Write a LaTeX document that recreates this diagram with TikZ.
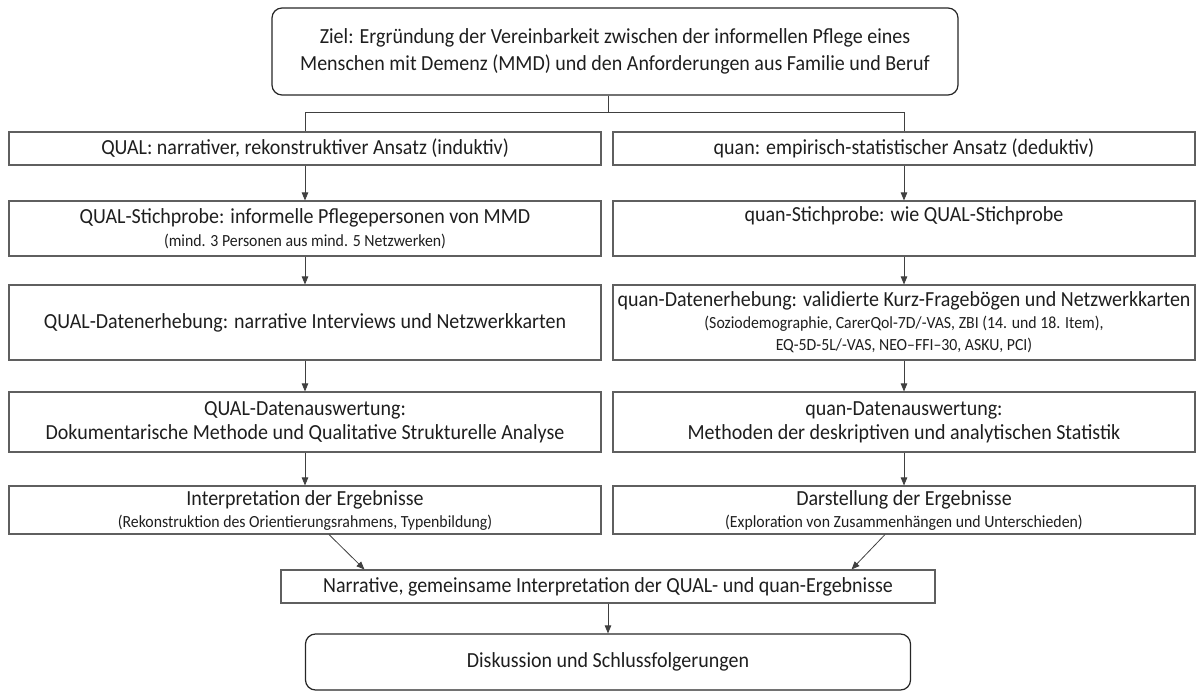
\documentclass[tikz,border=0pt]{standalone}
\usepackage{fontspec}
\setmainfont{Carlito}[FakeStretch=0.93]
\usetikzlibrary{arrows.meta,calc}
\definecolor{linec}{HTML}{5F5F5F}
\definecolor{txt}{HTML}{1E1E1E}
\newcommand{\mtxt}{\fontsize{21.5}{24}\selectfont}
\newcommand{\stxt}{\fontsize{17}{20}\selectfont}
\begin{document}
\begin{tikzpicture}[x=1pt,y=-1pt,
 box/.style={draw=linec, line width=1.1pt, inner sep=0pt, align=center, text=txt, font=\mtxt},
 lbox/.style={box, minimum width=592pt},
 rboxc/.style={box, minimum width=582pt},
 rbox/.style={box, draw=black!85, line width=1.2pt, rounded corners=10pt},
 conn/.style={draw=black!75, line width=0.8pt, -{Triangle[length=8pt,width=6.5pt]}},
 plain/.style={draw=black!75, line width=0.8pt}]
\useasboundingbox (0,0) rectangle (1200,692);

\node[rbox, minimum width=686pt, minimum height=87pt] (top) at (615,51.5)
 {Ziel: Ergründung der Vereinbarkeit zwischen der informellen Pflege eines\\[3pt]Menschen mit Demenz (MMD) und den Anforderungen aus Familie und Beruf};

\node[lbox, minimum height=33pt] (l1) at (305,148.5) {QUAL: narrativer, rekonstruktiver Ansatz (induktiv)};
\node[rboxc, minimum height=33pt] (r1) at (904,148.5) {quan: empirisch-statistischer Ansatz (deduktiv)};

\node[lbox, minimum height=55pt] (l2) at (305,228.5) {QUAL-Stichprobe: informelle Pflegepersonen von MMD\\[-1pt]{\stxt (mind. 3 Personen aus mind. 5 Netzwerken)}};
\node[rboxc, minimum height=55pt] (r2) at (904,228.5) {quan-Stichprobe: wie QUAL-Stichprobe\\[-1pt]{\stxt\strut}};

\node[lbox, minimum height=75pt] (l3) at (305,322.5) {QUAL-Datenerhebung: narrative Interviews und Netzwerkkarten};
\node[rboxc, minimum height=75pt] (r3) at (904,322.5) {quan-Datenerhebung: validierte Kurz-Fragebögen und Netzwerkkarten\\[-2pt]{\stxt (Soziodemographie, CarerQol-7D/-VAS, ZBI (14. und 18. Item),}\\[-2pt]{\stxt EQ-5D-5L/-VAS, NEO–FFI–30, ASKU, PCI)}};

\node[lbox, minimum height=60pt] (l4) at (305,422) {QUAL-Datenauswertung:\\Dokumentarische Methode und Qualitative Strukturelle Analyse};
\node[rboxc, minimum height=60pt] (r4) at (904,422) {quan-Datenauswertung:\\Methoden der deskriptiven und analytischen Statistik};

\node[lbox, minimum height=48pt] (l5) at (305,510) {Interpretation der Ergebnisse\\[-2pt]{\stxt (Rekonstruktion des Orientierungsrahmens, Typenbildung)}};
\node[rboxc, minimum height=48pt] (r5) at (904,510) {Darstellung der Ergebnisse\\[-2pt]{\stxt (Exploration von Zusammenhängen und Unterschieden)}};

\node[box, minimum width=654pt, minimum height=33pt] (m) at (608,586.5) {Narrative, gemeinsame Interpretation der QUAL- und quan-Ergebnisse};
\node[rbox, minimum width=605pt, minimum height=56pt] (fin) at (608,662) {Diskussion und Schlussfolgerungen};

\draw[plain] ($(top.south)+(-7,0)$) -- ++(0,17) -| (l1.north);
\draw[plain] ($(top.south)+(-7,17)$) -| (r1.north);

\foreach \a/\b in {l1/l2,l2/l3,l3/l4,l4/l5,r1/r2,r2/r3,r3/r4,r4/r5}
  \draw[conn] (\a.south) -- (\b.north);

\draw[conn] ($(l5.south)+(24,0)$) -- ($(m.north west)+(84,0)$);
\draw[conn] ($(r5.south)+(-19,0)$) -- ($(m.north east)+(-84,0)$);
\draw[conn] (m.south) -- (fin.north);
\end{tikzpicture}
\end{document}
